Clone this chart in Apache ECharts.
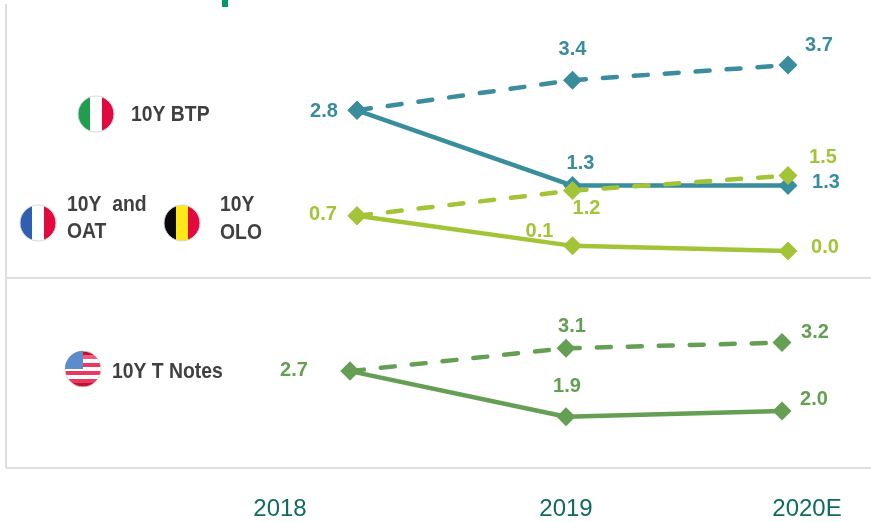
<!DOCTYPE html>
<html><head><meta charset="utf-8">
<style>html,body{margin:0;padding:0;background:#fff}#c{width:871px;height:522px}</style>
<script src="https://cdn.jsdelivr.net/npm/echarts@6/dist/echarts.min.js"></script></head>
<body><div id="c"></div>
<script>
const categories = ['2018','2019','2020E'];
const btpActual = [2.8,1.3,1.3];
const btpForecast = [2.8,3.4,3.7];
const oatActual = [0.7,0.1,0.0];
const oatForecast = [0.7,1.2,1.5];
const usActual = [2.7,1.9,2.0];
const usForecast = [2.7,3.1,3.2];

const TEAL='#3a8d9c', LIME='#a3c437', GREEN='#659f54', GREY='#404040', RULE='#dedede';
const FONT='"Liberation Sans",Arial,sans-serif';

const chart = echarts.init(document.getElementById('c'), null, {renderer:'canvas'});

function series(name, values, color, dashed, grid, offsets){
  return {
    name, type:'line', xAxisIndex:grid, yAxisIndex:grid, symbol:'diamond', symbolSize:19,
    showSymbol:true, animation:false, silent:true, clip:false,
    lineStyle: dashed ? {color,width:4.5,type:[14,17],cap:'round'} : {color,width:4.5},
    itemStyle:{color},
    data: values.map((v,i)=>({
      value:v,
      label:{show:offsets[i]!==null, position:'inside', offset:offsets[i]||[0,0],
             color, fontFamily:FONT, fontWeight:'bold', fontSize:20,
             formatter:p=>p.value.toFixed(1)}
    }))
  };
}

function txt(x,y,t){
  return {type:'text',x,y,scaleX:0.88,z:20,silent:true,
    style:{text:t,fill:GREY,font:'bold 22px '+FONT,textVerticalAlign:'middle',textAlign:'left'}};
}
function flag(cx,cy,stops,vertical){
  return {type:'circle',z:10,silent:true,shape:{cx,cy,r:18},
    style:{fill:new echarts.graphic.LinearGradient(0,0,vertical?0:1,vertical?1:0,stops),stroke:'#d8d8d8',lineWidth:1}};
}
function hard(list){
  const out=[];const n=list.length;
  list.forEach((c,i)=>{out.push({offset:i/n,color:c});out.push({offset:(i+1)/n,color:c});});
  return out;
}
const usStripes=['#c1122f','#f4587a','#fff','#e83a60','#fff','#e83a60','#fff','#e83a60','#c1122f'];

chart.setOption({
  backgroundColor:'#fff',
  grid:[
    {left:357,right:83,top:50,height:226},
    {left:350,right:89,top:297,height:171}
  ],
  xAxis:[
    {gridIndex:0,type:'category',boundaryGap:false,data:categories,show:false},
    {gridIndex:1,type:'category',boundaryGap:false,
      data:[
        {value:categories[0],textStyle:{padding:[0,140,0,0]}},
        {value:categories[1]},
        {value:categories[2],textStyle:{padding:[0,0,0,50]}}
      ],
      axisLine:{show:false},axisTick:{show:false},
      axisLabel:{show:true,interval:0,margin:29,color:'#0f6b5e',fontSize:24,fontFamily:FONT,hideOverlap:false,showMinLabel:true,showMaxLabel:true}}
  ],
  yAxis:[
    {gridIndex:0,type:'value',min:-0.5,max:4,show:false},
    {gridIndex:1,type:'value',min:1,max:4,show:false}
  ],
  series:[
    series('10Y BTP forecast',btpForecast,TEAL,true,0,[null,[0,-31],[31,-20]]),
    series('10Y BTP',btpActual,TEAL,false,0,[[-33,1],[8,-22],[38,-3]]),
    series('10Y OAT and OLO',oatActual,LIME,false,0,[[-34,-1],[-33,-14],[37,-3]]),
    series('10Y OAT and OLO forecast',oatForecast,LIME,true,0,[null,[14,18],[35,-18]]),
    series('10Y T Notes forecast',usForecast,GREEN,true,1,[null,[6,-22],[33,-10]]),
    series('10Y T Notes',usActual,GREEN,false,1,[[-56,-1],[1,-30],[32,-12]])
  ],
  graphic:[
    {type:'rect',silent:true,z:1,shape:{x:222,y:0,width:6,height:7},style:{fill:'#009a62'}},
    {type:'line',silent:true,z:1,shape:{x1:6,y1:4,x2:6,y2:468},style:{stroke:RULE,lineWidth:2}},
    {type:'line',silent:true,z:1,shape:{x1:6,y1:278,x2:871,y2:278},style:{stroke:RULE,lineWidth:2}},
    {type:'line',silent:true,z:1,shape:{x1:6,y1:468,x2:871,y2:468},style:{stroke:RULE,lineWidth:2}},
    flag(96,114,hard(['#1f9e4e','#fff','#e00a3e'])),
    flag(38,223,hard(['#2f5fb0','#fff','#e00a3e'])),
    flag(182,223,hard(['#0a0a0a','#ffe81a','#e00a3e'])),
    flag(83,369,hard(usStripes),true),
    {type:'sector',silent:true,z:11,shape:{cx:83,cy:369,r:18,startAngle:Math.PI,endAngle:Math.PI*1.5},
      style:{fill:'#5b8ccb'}},
    txt(131,115,'10Y BTP'),
    txt(67,205,'10Y  and'),
    txt(67,232,'OAT'),
    txt(220,205,'10Y'),
    txt(220,233,'OLO'),
    txt(112,372,'10Y T Notes')
  ]
});
</script></body></html>
